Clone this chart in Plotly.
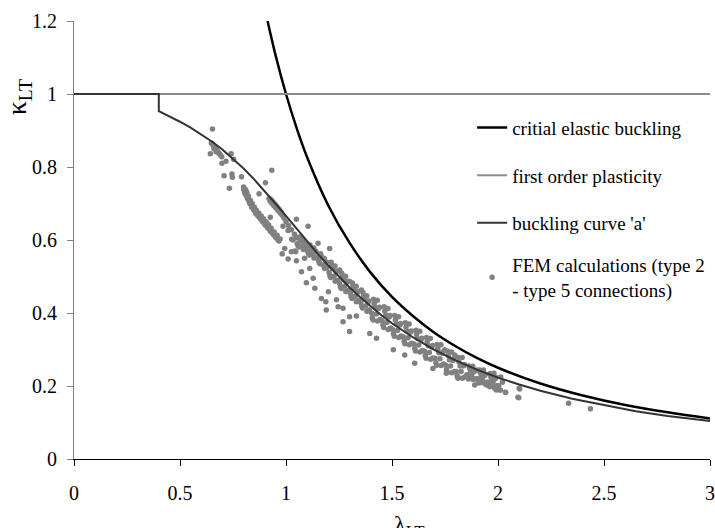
import plotly.graph_objects as go

# ---------------- data ----------------
x_ticks = [0, 0.5, 1, 1.5, 2, 2.5, 3]
x_ticklabels = ["0", "0.5", "1", "1.5", "2", "2.5", "3"]
y_ticks = [0, 0.2, 0.4, 0.6, 0.8, 1.0, 1.2]
y_ticklabels = ["0", "0.2", "0.4", "0.6", "0.8", "1", "1.2"]

# critical elastic buckling curve
elastic_lambda = [0.913, 0.95, 1.0, 1.05, 1.1, 1.2, 1.3, 1.4, 1.5, 1.6, 1.7, 1.8,
                  1.9, 2.0, 2.2, 2.4, 2.6, 2.8, 3.0]
elastic_kappa = [1.200, 1.108, 1.000, 0.907, 0.826, 0.694, 0.592, 0.510, 0.444,
                 0.391, 0.346, 0.309, 0.277, 0.250, 0.207, 0.174, 0.148, 0.128, 0.111]

# first order plasticity
plastic_lambda = [0.0, 3.0]
plastic_kappa = [1.0, 1.0]

# buckling curve 'a'
curve_a_lambda = [0.0, 0.4, 0.4, 0.45, 0.5, 0.55, 0.6, 0.65, 0.7, 0.75, 0.8, 0.85,
                  0.9, 0.95, 1.0, 1.05, 1.1, 1.15, 1.2, 1.25, 1.3, 1.35, 1.4, 1.45,
                  1.5, 1.6, 1.7, 1.8, 1.9, 2.0, 2.1, 2.2, 2.35, 2.5, 2.65, 2.8, 3.0]
curve_a_kappa = [1.0, 1.0, 0.953, 0.939, 0.924, 0.908, 0.890, 0.870, 0.848, 0.823,
                 0.796, 0.766, 0.734, 0.700, 0.666, 0.631, 0.596, 0.562, 0.530,
                 0.499, 0.470, 0.443, 0.418, 0.394, 0.372, 0.333, 0.299, 0.270,
                 0.245, 0.223, 0.204, 0.187, 0.165, 0.147, 0.131, 0.118, 0.104]

# FEM calculations - top-left cluster and early scatter
fem_early = [
    (0.653, 0.904), (0.648, 0.866), (0.653, 0.862), (0.657, 0.860), (0.661, 0.856),
    (0.665, 0.853), (0.669, 0.850), (0.673, 0.846), (0.677, 0.843), (0.681, 0.840),
    (0.686, 0.836), (0.691, 0.832), (0.697, 0.828), (0.660, 0.850), (0.670, 0.842),
    (0.643, 0.836), (0.698, 0.810), (0.717, 0.816), (0.741, 0.836), (0.753, 0.821),
    (0.708, 0.776), (0.745, 0.781), (0.747, 0.772), (0.790, 0.773), (0.733, 0.742),
    (0.802, 0.739), (0.813, 0.728), (0.873, 0.727), (0.903, 0.757), (0.933, 0.791),
]
# FEM calculations - steep lower band (lambda 0.80 - 0.97)
fem_band_low = [
    (0.800, 0.745), (0.803, 0.735), (0.806, 0.728), (0.810, 0.738), (0.812, 0.722),
    (0.815, 0.730), (0.818, 0.716), (0.820, 0.712), (0.823, 0.720), (0.826, 0.706),
    (0.829, 0.700), (0.832, 0.708), (0.835, 0.697), (0.838, 0.690), (0.841, 0.699),
    (0.845, 0.688), (0.848, 0.682), (0.851, 0.690), (0.855, 0.678), (0.858, 0.672),
    (0.861, 0.681), (0.865, 0.670), (0.868, 0.666), (0.872, 0.673), (0.875, 0.662),
    (0.879, 0.658), (0.883, 0.666), (0.886, 0.654), (0.890, 0.650), (0.894, 0.658),
    (0.898, 0.646), (0.902, 0.641), (0.906, 0.650), (0.910, 0.638), (0.914, 0.633),
    (0.918, 0.642), (0.922, 0.630), (0.926, 0.624), (0.930, 0.632), (0.935, 0.620),
    (0.940, 0.615), (0.944, 0.622), (0.948, 0.610), (0.953, 0.606), (0.958, 0.613),
    (0.962, 0.601), (0.967, 0.597), (0.972, 0.603),
]
# FEM calculations - upper band close to curve 'a' (lambda 0.92 - 1.05)
fem_band_up = [
    (0.920, 0.714), (0.925, 0.706), (0.929, 0.711), (0.934, 0.700), (0.938, 0.705),
    (0.943, 0.694), (0.948, 0.698), (0.952, 0.688), (0.957, 0.692), (0.962, 0.681),
    (0.967, 0.685), (0.972, 0.674), (0.977, 0.677), (0.982, 0.668), (0.990, 0.660),
    (1.000, 0.650), (1.012, 0.640), (1.025, 0.628), (1.040, 0.616), (1.050, 0.606),
]
# FEM calculations - main band (lambda 1.05 - 2.02)
fem_band_main = [
    (1.063, 0.608), (1.053, 0.590), (1.071, 0.597), (1.061, 0.581),
    (1.081, 0.601), (1.093, 0.576), (1.087, 0.590), (1.076, 0.583),
    (1.113, 0.586), (1.103, 0.568), (1.121, 0.575), (1.111, 0.559),
    (1.131, 0.578), (1.143, 0.553), (1.137, 0.567), (1.126, 0.560),
    (1.163, 0.562), (1.153, 0.544), (1.171, 0.551), (1.161, 0.535),
    (1.181, 0.549), (1.193, 0.524), (1.187, 0.538), (1.176, 0.531),
    (1.213, 0.539), (1.203, 0.511), (1.221, 0.522), (1.211, 0.497),
    (1.231, 0.529), (1.243, 0.490), (1.237, 0.512), (1.226, 0.501),
    (1.263, 0.509), (1.253, 0.481), (1.271, 0.492), (1.261, 0.467),
    (1.281, 0.501), (1.293, 0.462), (1.287, 0.484), (1.276, 0.473),
    (1.313, 0.482), (1.303, 0.454), (1.321, 0.465), (1.311, 0.440),
    (1.331, 0.473), (1.343, 0.434), (1.337, 0.456), (1.326, 0.445),
    (1.363, 0.456), (1.353, 0.428), (1.371, 0.439), (1.361, 0.414),
    (1.381, 0.447), (1.393, 0.408), (1.387, 0.430), (1.376, 0.419),
    (1.413, 0.438), (1.403, 0.400), (1.421, 0.415), (1.411, 0.381),
    (1.431, 0.435), (1.443, 0.382), (1.437, 0.412), (1.426, 0.397),
    (1.463, 0.417), (1.453, 0.379), (1.471, 0.394), (1.461, 0.360),
    (1.481, 0.412), (1.493, 0.359), (1.487, 0.389), (1.476, 0.374),
    (1.513, 0.393), (1.503, 0.355), (1.521, 0.370), (1.511, 0.336),
    (1.531, 0.390), (1.543, 0.337), (1.537, 0.367), (1.526, 0.352),
    (1.563, 0.373), (1.553, 0.335), (1.571, 0.350), (1.561, 0.316),
    (1.581, 0.370), (1.593, 0.317), (1.587, 0.347), (1.576, 0.332),
    (1.613, 0.353), (1.603, 0.315), (1.621, 0.330), (1.611, 0.296),
    (1.631, 0.350), (1.643, 0.297), (1.637, 0.327), (1.626, 0.312),
    (1.663, 0.333), (1.653, 0.295), (1.671, 0.310), (1.661, 0.276),
    (1.681, 0.330), (1.693, 0.277), (1.687, 0.307), (1.676, 0.292),
    (1.713, 0.314), (1.703, 0.276), (1.721, 0.291), (1.711, 0.257),
    (1.731, 0.313), (1.743, 0.260), (1.737, 0.290), (1.726, 0.275),
    (1.763, 0.295), (1.753, 0.257), (1.771, 0.272), (1.761, 0.238),
    (1.781, 0.293), (1.793, 0.240), (1.787, 0.270), (1.776, 0.255),
    (1.813, 0.278), (1.803, 0.240), (1.821, 0.255), (1.811, 0.221),
    (1.831, 0.278), (1.843, 0.225), (1.837, 0.255), (1.826, 0.240),
    (1.863, 0.255), (1.853, 0.231), (1.871, 0.240), (1.861, 0.219),
    (1.881, 0.254), (1.893, 0.220), (1.887, 0.239), (1.876, 0.230),
    (1.913, 0.244), (1.903, 0.220), (1.921, 0.229), (1.911, 0.208),
    (1.931, 0.244), (1.943, 0.210), (1.937, 0.229), (1.926, 0.220),
    (1.963, 0.234), (1.953, 0.210), (1.971, 0.219), (1.961, 0.198),
    (1.981, 0.235), (1.993, 0.201), (1.987, 0.220), (1.976, 0.211),
    (2.013, 0.225), (2.003, 0.201), (2.021, 0.210), (2.011, 0.189),
]
# FEM calculations - extra points filling the main band
fem_band_fill = [
    (1.066, 0.602), (1.057, 0.584), (1.091, 0.592), (1.082, 0.574),
    (1.116, 0.580), (1.107, 0.562), (1.141, 0.569), (1.132, 0.551),
    (1.166, 0.556), (1.157, 0.538), (1.191, 0.540), (1.182, 0.522),
    (1.216, 0.530), (1.207, 0.502), (1.241, 0.515), (1.232, 0.487),
    (1.266, 0.500), (1.257, 0.472), (1.291, 0.487), (1.282, 0.459),
    (1.316, 0.473), (1.307, 0.445), (1.341, 0.459), (1.332, 0.431),
    (1.366, 0.447), (1.357, 0.419), (1.391, 0.433), (1.382, 0.405),
    (1.416, 0.426), (1.407, 0.388), (1.441, 0.416), (1.432, 0.378),
    (1.466, 0.405), (1.457, 0.367), (1.491, 0.393), (1.482, 0.355),
    (1.516, 0.381), (1.507, 0.343), (1.541, 0.371), (1.532, 0.333),
    (1.566, 0.361), (1.557, 0.323), (1.591, 0.351), (1.582, 0.313),
    (1.616, 0.341), (1.607, 0.303), (1.641, 0.331), (1.632, 0.293),
    (1.666, 0.321), (1.657, 0.283), (1.691, 0.311), (1.682, 0.273),
    (1.716, 0.302), (1.707, 0.264), (1.741, 0.294), (1.732, 0.256),
    (1.766, 0.283), (1.757, 0.245), (1.791, 0.274), (1.782, 0.236),
    (1.816, 0.266), (1.807, 0.228), (1.841, 0.259), (1.832, 0.221),
    (1.866, 0.248), (1.857, 0.224), (1.891, 0.242), (1.882, 0.218),
    (1.916, 0.237), (1.907, 0.213), (1.941, 0.232), (1.932, 0.208),
    (1.966, 0.227), (1.957, 0.203), (1.991, 0.223), (1.982, 0.199),
]
# FEM calculations - scattered points
fem_scatter = [
    (0.926, 0.662), (0.986, 0.638), (1.010, 0.626), (1.049, 0.657), (1.027, 0.602),
    (0.994, 0.577), (1.041, 0.570), (0.982, 0.562), (1.010, 0.548), (1.049, 0.543),
    (1.096, 0.582), (1.104, 0.638), (1.088, 0.550), (1.033, 0.600), (1.025, 0.568),
    (1.046, 0.568), (1.073, 0.513), (1.096, 0.483), (1.128, 0.495), (1.136, 0.468),
    (1.167, 0.440), (1.188, 0.431), (1.200, 0.458), (1.190, 0.408), (1.238, 0.436),
    (1.246, 0.417), (1.269, 0.413), (1.300, 0.390), (1.269, 0.376), (1.332, 0.392),
    (1.112, 0.522), (1.151, 0.591), (1.206, 0.577), (1.253, 0.518), (1.300, 0.486),
    (1.356, 0.463), (1.300, 0.349), (1.395, 0.344), (1.427, 0.331), (1.506, 0.299),
    (1.560, 0.285), (1.607, 0.262), (1.693, 0.248), (1.756, 0.235), (1.811, 0.225),
    (1.890, 0.203), (1.945, 0.203), (2.008, 0.189), (2.036, 0.182), (2.094, 0.169),
    (2.100, 0.194), (1.796, 0.285), (1.749, 0.299), (1.900, 0.244), (1.969, 0.221),
    (1.977, 0.216), (1.984, 0.194), (1.992, 0.189), (2.035, 0.183), (2.102, 0.192),
    (2.098, 0.168), (2.333, 0.153), (2.436, 0.138),
]

fem_points = fem_early + fem_band_low + fem_band_up + fem_band_main + fem_band_fill + fem_scatter
fem_lambda = [p[0] for p in fem_points]
fem_kappa = [p[1] for p in fem_points]

# ---------------- figure ----------------
FONT = "Times New Roman, Liberation Serif, serif"

fig = go.Figure()

fig.add_trace(go.Scatter(
    x=fem_lambda, y=fem_kappa, mode="markers",
    name="FEM calculations (type 2<br>- type 5 connections)",
    marker=dict(size=5.5, color="#808080", line=dict(width=0)),
    legend="legend2",
))
fig.add_trace(go.Scatter(
    x=elastic_lambda, y=elastic_kappa, mode="lines",
    name="critial elastic buckling", line=dict(color="#000000", width=2.5, shape="spline"),
    legendrank=1, legendgroup="a",
))
fig.add_trace(go.Scatter(
    x=plastic_lambda, y=plastic_kappa, mode="lines",
    name="first order plasticity", line=dict(color="#8c8c8c", width=2),
    legendrank=2, legendgroup="b",
))
fig.add_trace(go.Scatter(
    x=curve_a_lambda, y=curve_a_kappa, mode="lines",
    name="buckling curve 'a'", line=dict(color="#333333", width=2),
    legendrank=3, legendgroup="c",
))

legend_common = dict(
    xanchor="left", yanchor="top",
    bgcolor="rgba(0,0,0,0)", borderwidth=0,
    font=dict(family=FONT, size=19, color="black"),
    itemwidth=30,
)

fig.update_layout(
    width=715, height=528,
    margin=dict(l=74, r=5, t=21, b=69, autoexpand=False),
    paper_bgcolor="white", plot_bgcolor="white",
    font=dict(family=FONT, size=20, color="black"),
    showlegend=True,
    legend=dict(x=0.626, y=0.80, tracegroupgap=20, **legend_common),
    legend2=dict(x=0.626, y=0.486, **legend_common),
    xaxis=dict(
        range=[0, 3], tickvals=x_ticks, ticktext=x_ticklabels,
        showgrid=False, zeroline=False, showline=True, linecolor="black", linewidth=1,
        ticks="outside", ticklen=6, tickcolor="black", tickwidth=1,
        tickfont=dict(family=FONT, size=20, color="black"),
        ticklabelstandoff=10,
    ),
    yaxis=dict(
        range=[0, 1.2], tickvals=y_ticks, ticktext=y_ticklabels,
        showgrid=False, zeroline=False, showline=True, linecolor="#7f7f7f", linewidth=1,
        ticks="outside", ticklen=6, tickcolor="#7f7f7f", tickwidth=1,
        tickfont=dict(family=FONT, size=20, color="black"),
        ticklabelstandoff=6,
    ),
    annotations=[
        dict(text="κ<sub>LT</sub>", xref="paper", yref="paper",
             x=-0.088, y=0.826, xanchor="center", yanchor="middle",
             textangle=-90, showarrow=False,
             font=dict(family=FONT, size=28, color="black")),
        dict(text="λ<sub>LT</sub>", xref="paper", yref="paper",
             x=0.528, y=-0.115, xanchor="center", yanchor="top",
             showarrow=False,
             font=dict(family=FONT, size=24, color="black")),
    ],
)

fig.write_html("out.html")
